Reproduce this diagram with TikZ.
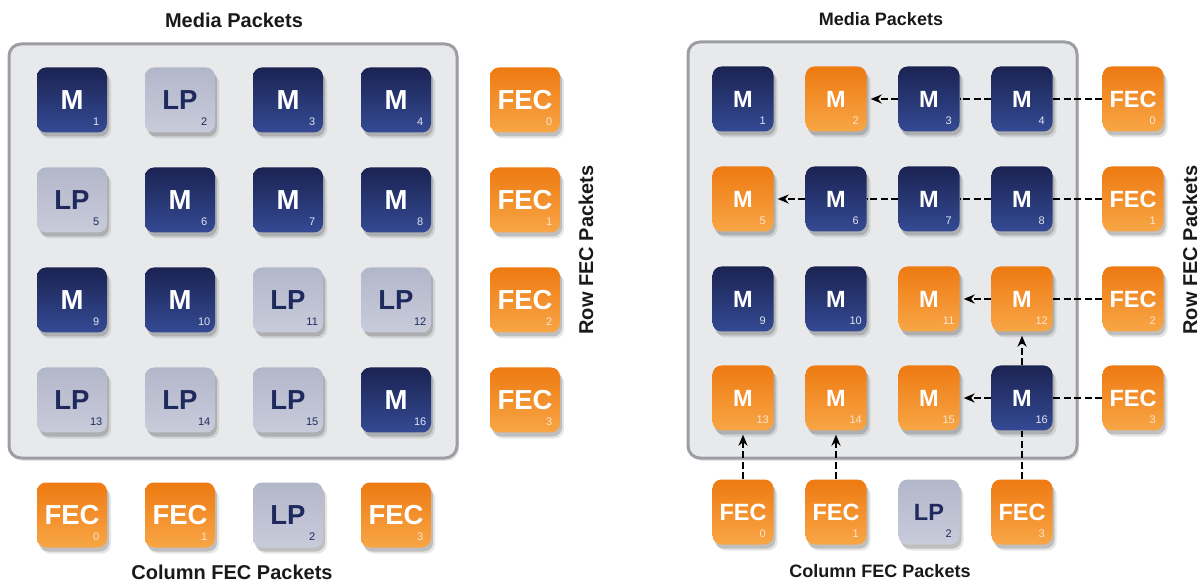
\documentclass[tikz,border=0pt]{standalone}
\usepackage{fontspec}
\setmainfont{Liberation Sans}
\usetikzlibrary{arrows.meta,shadows}
\definecolor{navyT}{HTML}{1B2352}
\definecolor{navyB}{HTML}{344A94}
\definecolor{orT}{HTML}{EE7A12}
\definecolor{orB}{HTML}{F8A646}
\definecolor{lpT}{HTML}{B3B7CA}
\definecolor{lpB}{HTML}{C8CBDA}
\definecolor{lpText}{HTML}{1E2A5E}
\definecolor{boxFill}{HTML}{E8E9EB}
\definecolor{boxLine}{HTML}{9C9EA3}
\tikzset{
  tile/.style={rounded corners=9pt, inner sep=0pt, minimum height=65pt,
    drop shadow={shadow xshift=2pt, shadow yshift=-4pt, opacity=0.22, fill=black!80},
    drop shadow={shadow xshift=4pt, shadow yshift=-6pt, opacity=0.12, fill=black!80}},
  ltile/.style={tile, minimum width=70pt, font=\bfseries\fontsize{27.5}{27.5}\selectfont},
  rtile/.style={tile, minimum width=61pt, font=\bfseries\fontsize{23.5}{23.5}\selectfont},
  navy/.style={top color=navyT, bottom color=navyB, text=white},
  orng/.style={top color=orT, bottom color=orB, text=white},
  lp/.style={top color=lpT, bottom color=lpB, text=lpText},
  sub/.style={font=\fontsize{11}{11}\selectfont, inner sep=0pt},
  navysub/.style={text=white!85!navyB},
  orngsub/.style={text=white!80!orT},
  lpsub/.style={text=lpText},
  panel/.style={draw=boxLine, line width=3pt, fill=boxFill, rounded corners=12pt,
    drop shadow={shadow xshift=2pt, shadow yshift=-3pt, opacity=0.15, fill=black!60}},
  ltitle/.style={font=\bfseries\fontsize{20}{20}\selectfont, text=black!90},
  rtitle/.style={font=\bfseries\fontsize{18}{18}\selectfont, text=black!90},
  conn/.style={draw=black, line width=2.4pt, dash pattern=on 7pt off 3.5pt},
  arr/.style={conn, -{Stealth[length=11pt,width=9pt]}, shorten >=4pt},
}
\newcommand\Tile[7]{%
  \node[#1,#2] (#3) at (#4,#5) {#6};
  \node[sub,#2sub] (#3s) at ([xshift=-11pt,yshift=11pt]#3.south east) {#7};}
\begin{document}
\begin{tikzpicture}[x=1pt,y=-1pt]
\useasboundingbox (0,0) rectangle (1203,585);
% ---------------- left panel ----------------
\node[ltitle] (Ltitle) at (234,20) {Media Packets};
\node[panel, minimum width=448pt, minimum height=414pt] (Lbox) at (233,251) {};
\Tile{ltile}{navy}{LM1}{72}{100}{M}{1}
\Tile{ltile}{lp}{LM2}{180}{100}{LP}{2}
\Tile{ltile}{navy}{LM3}{288}{100}{M}{3}
\Tile{ltile}{navy}{LM4}{396}{100}{M}{4}
\Tile{ltile}{orng}{LF0}{525}{100}{FEC}{0}
\Tile{ltile}{lp}{LM5}{72}{200}{LP}{5}
\Tile{ltile}{navy}{LM6}{180}{200}{M}{6}
\Tile{ltile}{navy}{LM7}{288}{200}{M}{7}
\Tile{ltile}{navy}{LM8}{396}{200}{M}{8}
\Tile{ltile}{orng}{LF1}{525}{200}{FEC}{1}
\Tile{ltile}{navy}{LM9}{72}{300}{M}{9}
\Tile{ltile}{navy}{LM10}{180}{300}{M}{10}
\Tile{ltile}{lp}{LM11}{288}{300}{LP}{11}
\Tile{ltile}{lp}{LM12}{396}{300}{LP}{12}
\Tile{ltile}{orng}{LF2}{525}{300}{FEC}{2}
\Tile{ltile}{lp}{LM13}{72}{400}{LP}{13}
\Tile{ltile}{lp}{LM14}{180}{400}{LP}{14}
\Tile{ltile}{lp}{LM15}{288}{400}{LP}{15}
\Tile{ltile}{navy}{LM16}{396}{400}{M}{16}
\Tile{ltile}{orng}{LF3}{525}{400}{FEC}{3}
\Tile{ltile}{orng}{LC0}{72}{515}{FEC}{0}
\Tile{ltile}{orng}{LC1}{180}{515}{FEC}{1}
\Tile{ltile}{lp}{LC2}{288}{515}{LP}{2}
\Tile{ltile}{orng}{LC3}{396}{515}{FEC}{3}
\node[ltitle] (Lcol) at (232,572) {Column FEC Packets};
\node[ltitle, rotate=90] (Lrow) at (586,250) {Row FEC Packets};
% ---------------- right panel ----------------
\node[rtitle] (Rtitle) at (881,19) {Media Packets};
\node[panel, minimum width=389pt, minimum height=416pt] (Rbox) at (882.5,250) {};
\Tile{rtile}{navy}{RM1}{743}{99}{M}{1}
\Tile{rtile}{orng}{RM2}{836}{99}{M}{2}
\Tile{rtile}{navy}{RM3}{929}{99}{M}{3}
\Tile{rtile}{navy}{RM4}{1022}{99}{M}{4}
\Tile{rtile}{orng}{RF0}{1133}{99}{FEC}{0}
\Tile{rtile}{orng}{RM5}{743}{199}{M}{5}
\Tile{rtile}{navy}{RM6}{836}{199}{M}{6}
\Tile{rtile}{navy}{RM7}{929}{199}{M}{7}
\Tile{rtile}{navy}{RM8}{1022}{199}{M}{8}
\Tile{rtile}{orng}{RF1}{1133}{199}{FEC}{1}
\Tile{rtile}{navy}{RM9}{743}{299}{M}{9}
\Tile{rtile}{navy}{RM10}{836}{299}{M}{10}
\Tile{rtile}{orng}{RM11}{929}{299}{M}{11}
\Tile{rtile}{orng}{RM12}{1022}{299}{M}{12}
\Tile{rtile}{orng}{RF2}{1133}{299}{FEC}{2}
\Tile{rtile}{orng}{RM13}{743}{398}{M}{13}
\Tile{rtile}{orng}{RM14}{836}{398}{M}{14}
\Tile{rtile}{orng}{RM15}{929}{398}{M}{15}
\Tile{rtile}{navy}{RM16}{1022}{398}{M}{16}
\Tile{rtile}{orng}{RF3}{1133}{398}{FEC}{3}
\Tile{rtile}{orng}{RC0}{743}{512}{FEC}{0}
\Tile{rtile}{orng}{RC1}{836}{512}{FEC}{1}
\Tile{rtile}{lp}{RC2}{929}{512}{LP}{2}
\Tile{rtile}{orng}{RC3}{1022}{512}{FEC}{3}
\node[rtitle] (Rcol) at (880,571) {Column FEC Packets};
\node[ltitle, rotate=90] (Rrow) at (1190,250) {Row FEC Packets};
% connectors
\draw[conn] (RF0.west) -- (RM4.east);
\draw[conn] (RM4.west) -- (RM3.east);
\draw[arr]  (RM3.west) -- (RM2.east);
\draw[conn] (RF1.west) -- (RM8.east);
\draw[conn] (RM8.west) -- (RM7.east);
\draw[conn] (RM7.west) -- (RM6.east);
\draw[arr]  (RM6.west) -- (RM5.east);
\draw[conn] (RF2.west) -- (RM12.east);
\draw[arr]  (RM12.west) -- (RM11.east);
\draw[conn] (RF3.west) -- (RM16.east);
\draw[arr]  (RM16.west) -- (RM15.east);
\draw[arr]  (RC0.north) -- (RM13.south);
\draw[arr]  (RC1.north) -- (RM14.south);
\draw[conn] (RC3.north) -- (RM16.south);
\draw[arr]  (RM16.north) -- (RM12.south);
\end{tikzpicture}
\end{document}
